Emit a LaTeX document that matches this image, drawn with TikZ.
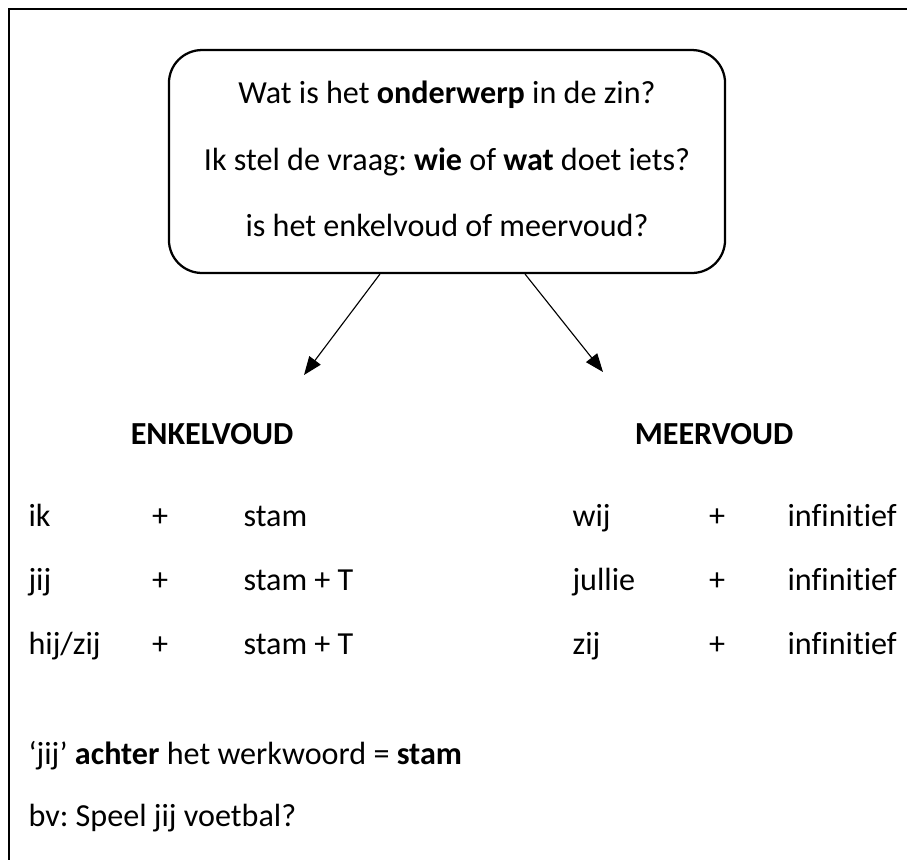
\documentclass[tikz,border=0pt]{standalone}
\usepackage{fontspec}
\setmainfont{Carlito}[Ligatures=NoCommon]
\usetikzlibrary{arrows.meta, positioning}
\frenchspacing

\begin{document}
\begin{tikzpicture}[
    x=0.3548pt, y=-0.3548pt,
    every node/.style={font=\fontsize{11.4}{13}\selectfont, inner sep=0pt},
    vak/.style={draw, line width=0.8pt, rounded corners=11.7pt, minimum width=197.3pt, minimum height=79.1pt},
    links/.style={anchor=base west},
    midden/.style={anchor=base},
    pijl/.style={line width=0.4pt, -{Triangle[length=6.5pt, width=5pt]}}
]

    % 1. Kader (boven- en linkerrand)
    \useasboundingbox (0,0) rectangle (907,860);
    \draw[line width=1pt] (907,9) -- (9,9) -- (9,860);

    % 2. Vraagvak met de drie regels
    \node[vak] (vraag) at (447,161.5) {};
    \node[midden] (vraag1) at (447,103) {Wat is het \textbf{onderwerp} in de zin?};
    \node[midden] (vraag2) at (447,170) {Ik stel de vraag: \textbf{wie} of \textbf{wat} doet iets?};
    \node[midden] (vraag3) at (447,236) {is het enkelvoud of meervoud?};

    % 3. Pijlen naar enkelvoud en meervoud
    \coordinate (pijlL) at (304,375);
    \coordinate (pijlR) at (603,372);
    \draw[pijl] ([xshift=-23.8pt]vraag.south) -- (pijlL);
    \draw[pijl] ([xshift=27.7pt]vraag.south) -- (pijlR);

    % 4. Kopjes
    \node[midden] (enkelvoud) at (212,444) {\textbf{ENKELVOUD}};
    \node[midden] (meervoud)  at (714,444) {\textbf{MEERVOUD}};

    % 5. Enkelvoud: persoon + vorm
    \node[links]  (ik)     at (28,526)  {ik};
    \node[midden] (plusE1) at (160,526) {+};
    \node[links]  (vormE1) at (243,526) {stam};
    \node[links]  (jij)    at (28,590)  {jij};
    \node[midden] (plusE2) at (160,590) {+};
    \node[links]  (vormE2) at (243,590) {stam + T};
    \node[links]  (hijzij) at (28,654)  {hij/zij};
    \node[midden] (plusE3) at (160,654) {+};
    \node[links]  (vormE3) at (243,654) {stam + T};

    % 6. Meervoud: persoon + vorm
    \node[links]  (wij)    at (572,526) {wij};
    \node[midden] (plusM1) at (717,526) {+};
    \node[links]  (vormM1) at (787,526) {infinitief};
    \node[links]  (jullie) at (572,590) {jullie};
    \node[midden] (plusM2) at (717,590) {+};
    \node[links]  (vormM2) at (787,590) {infinitief};
    \node[links]  (zij)    at (572,654) {zij};
    \node[midden] (plusM3) at (717,654) {+};
    \node[links]  (vormM3) at (787,654) {infinitief};

    % 7. Regel en voorbeeld onderaan
    \node[links] (regel)     at (28,764) {‘jij’ \textbf{achter} het werkwoord = \textbf{stam}};
    \node[links] (voorbeeld) at (28,826) {bv: Speel jij voetbal?};

\end{tikzpicture}
\end{document}
